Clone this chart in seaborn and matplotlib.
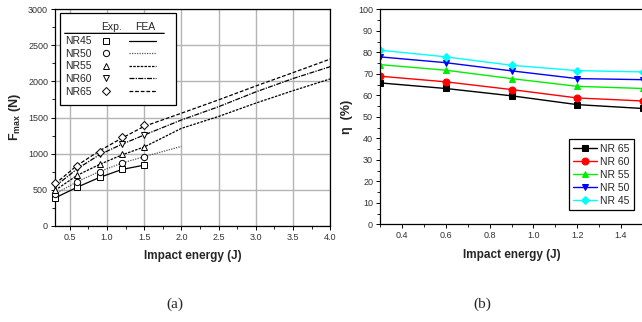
import pandas as pd
import numpy as np
import matplotlib
matplotlib.use("Agg")
import matplotlib.pyplot as plt
import seaborn as sns
from matplotlib.lines import Line2D
from matplotlib.patches import Rectangle
from matplotlib.legend_handler import HandlerTuple
from matplotlib.ticker import MultipleLocator, FormatStrFormatter

# ── data ─────────────────────────────────────────────
grades = ["NR45", "NR50", "NR55", "NR60", "NR65"]

# (a) peak force, experiments
exp_energy = [0.3, 0.6, 0.9, 1.2, 1.5]
exp_nr45 = [380, 532, 670, 781, 837]
exp_nr50 = [435, 610, 749, 865, 957]
exp_nr55 = [495, 703, 851, 989, 1091]
exp_nr60 = [564, 795, 989, 1128, 1257]
exp_nr65 = [587, 828, 1017, 1225, 1392]

# (a) peak force, FEA
fea_energy = [0.3, 0.6, 0.9, 1.2, 1.5, 2.0, 2.5, 3.0, 3.5, 4.0]
fea_nr45 = [385, 535, 670, 780, 840]
fea_nr50 = [440, 612, 752, 868, 958, 1100]
fea_nr55 = [490, 700, 850, 982, 1092, 1350, 1515, 1700, 1872, 2035]
fea_nr60 = [545, 790, 985, 1130, 1258, 1466, 1650, 1855, 2040, 2205]
fea_nr65 = [580, 838, 1040, 1215, 1378, 1560, 1745, 1937, 2122, 2310]

# (b) efficiency
eta_energy = [0.3, 0.6, 0.9, 1.2, 1.5]
eta_labels = ["NR 65", "NR 60", "NR 55", "NR 50", "NR 45"]
eta_nr65 = [65.8, 63.2, 59.8, 55.7, 53.9]
eta_nr60 = [68.9, 66.3, 62.7, 58.8, 57.4]
eta_nr55 = [74.3, 71.7, 67.8, 64.2, 63.2]
eta_nr50 = [77.9, 75.2, 71.4, 67.8, 67.3]
eta_nr45 = [81.0, 77.9, 74.0, 71.5, 70.9]

exp_vals = [exp_nr45, exp_nr50, exp_nr55, exp_nr60, exp_nr65]
fea_vals = [fea_nr45, fea_nr50, fea_nr55, fea_nr60, fea_nr65]
eta_vals = [eta_nr65, eta_nr60, eta_nr55, eta_nr50, eta_nr45]

# ── style ────────────────────────────────────────────
sns.set_theme(style="ticks")
plt.rcParams["font.family"] = ["Liberation Sans", "DejaVu Sans"]
plt.rcParams["mathtext.fontset"] = "custom"
plt.rcParams["mathtext.rm"] = "Liberation Sans"
plt.rcParams["mathtext.bf"] = "Liberation Sans:bold"
plt.rcParams["xtick.direction"] = "out"
plt.rcParams["ytick.direction"] = "out"

fig = plt.figure(figsize=(6.42, 3.22), dpi=100)
ax1 = fig.add_axes([0.0857, 0.299, 0.4285, 0.672])
ax2 = fig.add_axes([0.592, 0.303, 0.4095, 0.668])

exp_markers = ["s", "o", "^", "v", "D"]
fea_styles = ["-", (0, (1, 1)), (0, (2, 1)), (0, (4, 1, 1, 1)), (0, (3, 1.5))]
fea_colors = ["black", "#555555", "black", "black", "black"]

# ── (a) ──────────────────────────────────────────────
for g, ev, fv, m, ls, c in zip(grades, exp_vals, fea_vals, exp_markers, fea_styles, fea_colors):
    d_fea = pd.DataFrame({"E": fea_energy[:len(fv)], "F": fv})
    sns.lineplot(data=d_fea, x="E", y="F", ax=ax1, color=c, lw=0.9,
                 linestyle=ls, legend=False)
    d_exp = pd.DataFrame({"E": exp_energy, "F": ev})
    ax1.plot(d_exp["E"], d_exp["F"], linestyle="none", marker=m,
             ms=4.5 if m != "D" else 4, mfc="white", mec="black", mew=0.7,
             clip_on=False, zorder=4)

ax1.set_xlim(0.3, 4.0)
ax1.set_ylim(0, 3000)
ax1.xaxis.set_major_locator(MultipleLocator(0.5))
ax1.xaxis.set_minor_locator(MultipleLocator(0.25))
ax1.yaxis.set_major_locator(MultipleLocator(500))
ax1.yaxis.set_minor_locator(MultipleLocator(250))
ax1.xaxis.set_major_formatter(FormatStrFormatter("%.1f"))
ax1.grid(True, which="major", color="#b4b4b4", lw=1.0)
ax1.set_axisbelow(True)
ax1.set_xlabel("Impact energy (J)", fontsize=8.5, fontweight="bold", labelpad=6)
ax1.set_ylabel(r"F$_{\mathregular{max}}$ (N)", fontsize=9, fontweight="bold", labelpad=4)

# legend box: label | marker | line, with an "Exp. / FEA" header
ax1.add_patch(Rectangle((0.018, 0.558), 0.422, 0.425, transform=ax1.transAxes,
                        facecolor="white", edgecolor="black", lw=0.9, zorder=5))
ax1.text(0.207, 0.918, "Exp.", transform=ax1.transAxes, fontsize=7.5,
         ha="center", va="center", zorder=6)
ax1.text(0.327, 0.918, "FEA", transform=ax1.transAxes, fontsize=7.5,
         ha="center", va="center", zorder=6)
ax1.annotate("", xy=(0.407, 0.889), xytext=(0.025, 0.889), xycoords="axes fraction",
             arrowprops=dict(arrowstyle="-", lw=0.9, color="black"), zorder=6)

handles = []
for m, ls, c in zip(exp_markers, fea_styles, fea_colors):
    mk = Line2D([], [], linestyle="none", marker=m, ms=4.5 if m != "D" else 4,
                mfc="white", mec="black", mew=0.7)
    ln = Line2D([], [], color=c, lw=0.9, linestyle=ls)
    handles.append((mk, ln))
leg1 = ax1.legend(handles, grades, loc="upper left", bbox_to_anchor=(0.036, 0.876),
                  markerfirst=False, handler_map={tuple: HandlerTuple(ndivide=None, pad=0.9)},
                  handlelength=6.1, fontsize=7.5, frameon=False,
                  borderpad=0, labelspacing=0.25, handletextpad=0.1, borderaxespad=0)
leg1.set_zorder(7)

# ── (b) ──────────────────────────────────────────────
eta_colors = ["black", "red", "#00ee00", "blue", "cyan"]
eta_markers = ["s", "o", "^", "v", "D"]
for lab, v, c, m in zip(eta_labels, eta_vals, eta_colors, eta_markers):
    d = pd.DataFrame({"E": eta_energy, "eta": v})
    sns.lineplot(data=d, x="E", y="eta", ax=ax2, color=c, lw=1.0, marker=m,
                 ms=5 if m != "D" else 4.5, mec=c, label=lab)

ax2.set_xlim(0.3, 1.5)
ax2.set_ylim(0, 100)
ax2.xaxis.set_major_locator(MultipleLocator(0.2))
ax2.xaxis.set_minor_locator(MultipleLocator(0.1))
ax2.yaxis.set_major_locator(MultipleLocator(10))
ax2.yaxis.set_minor_locator(MultipleLocator(5))
ax2.xaxis.set_major_formatter(FormatStrFormatter("%.1f"))
ax2.set_xlabel("Impact energy (J)", fontsize=8.5, fontweight="bold", labelpad=6)
ax2.set_ylabel("η  (%)", fontsize=9, fontweight="bold", labelpad=4)
leg2 = ax2.legend(loc="lower right", bbox_to_anchor=(0.966, 0.066), fontsize=7.5,
                  frameon=True, fancybox=False, edgecolor="black", framealpha=1,
                  handlelength=2.3, handletextpad=0.3, labelspacing=0.3,
                  borderpad=0.4, borderaxespad=0)
leg2.get_frame().set_linewidth(0.9)

for ax in (ax1, ax2):
    for s in ax.spines.values():
        s.set_visible(True)
        s.set_color("black")
        s.set_linewidth(0.9)
    ax.tick_params(which="major", length=3, width=0.7, labelsize=6.5,
                   labelcolor="#333333", color="black", pad=2)
    ax.tick_params(which="minor", length=2, width=0.6, color="black")

fig.text(0.273, 0.045, "(a)", fontsize=11, family="Liberation Serif", ha="center")
fig.text(0.751, 0.045, "(b)", fontsize=11, family="Liberation Serif", ha="center")

fig.savefig("out.png", dpi=100)
